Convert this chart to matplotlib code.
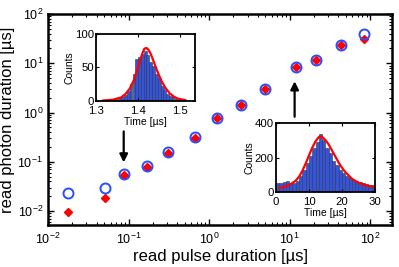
import numpy as np
import matplotlib
matplotlib.use("Agg")
import matplotlib.pyplot as plt
from matplotlib.ticker import LogLocator, NullFormatter

plt.rcParams['font.family'] = ['Liberation Sans', 'DejaVu Sans']
plt.rcParams['mathtext.fontset'] = 'custom'
plt.rcParams['mathtext.rm'] = 'Liberation Sans'
plt.rcParams['mathtext.it'] = 'Liberation Sans:italic'
plt.rcParams['mathtext.sf'] = 'Liberation Sans'

# ---- main data ----
pulse_duration = [0.0178, 0.051, 0.087, 0.17, 0.31, 0.67, 1.26, 2.45, 4.9, 11.9, 21.0, 43.5, 84.0]
photon_blue = [0.023, 0.029, 0.056, 0.081, 0.155, 0.32, 0.79, 1.45, 3.05, 8.5, 11.8, 23.7, 39.6]
photon_red = [0.0095, 0.018, 0.053, 0.079, 0.152, 0.31, 0.76, 1.42, 3.0, 8.2, 11.5, 23.0, 31.0]
red_err = [0.0012, 0.0025, 0.007, 0.011, 0.02, 0.04, 0.1, 0.2, 0.42, 1.2, 1.7, 3.2, 4.5]

# ---- inset 1 (short pulse) ----
h1_centers = [1.343, 1.350, 1.357, 1.363, 1.370, 1.377, 1.383, 1.390, 1.397, 1.403, 1.410,
              1.417, 1.423, 1.430, 1.437, 1.443, 1.450, 1.457, 1.463, 1.470, 1.477, 1.483,
              1.490, 1.497, 1.503]
h1_counts = [1, 2, 5, 6, 9, 14, 25, 40, 62, 65, 70, 75, 68, 58, 52, 40, 34, 22, 16, 10, 7, 5, 4, 2, 1]
fit1_t = [1.317, 1.34, 1.36, 1.37, 1.38, 1.39, 1.40, 1.405, 1.41, 1.415, 1.42, 1.425, 1.43,
          1.435, 1.445, 1.455, 1.465, 1.475, 1.485, 1.495, 1.512]
fit1_c = [0.3, 1.5, 5, 10, 18, 31, 50, 61, 71, 78, 79, 76, 70, 62, 45, 30, 19, 11, 6, 3, 0.8]

# ---- inset 2 (long pulse) ----
h2_centers = [0.5, 1.5, 2.5, 3.5, 4.5, 5.5, 6.5, 7.5, 8.5, 9.5, 10.5, 11.5, 12.5, 13.5, 14.5,
              15.5, 16.5, 17.5, 18.5, 19.5, 20.5, 21.5, 22.5, 23.5, 24.5, 25.5, 26.5, 27.5,
              28.5, 29.5]
h2_counts = [52, 50, 58, 62, 50, 48, 60, 90, 128, 168, 208, 255, 290, 335, 300, 258, 225,
             178, 158, 128, 108, 90, 80, 70, 60, 54, 50, 44, 40, 38]
fit2_t = [1, 2, 4, 6, 7, 8, 9, 10, 11, 12, 13, 13.5, 14, 15, 16, 17, 18, 19, 20, 21, 23, 25,
          27, 30]
fit2_c = [22, 26, 38, 65, 88, 122, 165, 212, 258, 295, 320, 323, 320, 302, 275, 240, 205,
          170, 140, 115, 76, 52, 38, 27]

fig = plt.figure(figsize=(3.99, 2.67), dpi=100)
ax = fig.add_axes([0.1203, 0.1573, 0.8622, 0.7903])
ax.set_xscale('log')
ax.set_yscale('log')
ax.set_xlim(0.01, 186)
ax.set_ylim(0.0052, 100)

ax.errorbar(pulse_duration, photon_red, yerr=red_err, fmt='D', color='red', ms=3.6,
            mec='red', mfc='red', elinewidth=1.3, capsize=0, zorder=3)
ax.plot(pulse_duration, photon_blue, 'o', ms=7.2, mfc='none', mec='#2a4dff', mew=1.4, zorder=4)

ax.set_xlabel('read pulse duration [µs]', fontsize=12, labelpad=1)
ax.set_ylabel('read photon duration [µs]', fontsize=12, labelpad=2)
ax.tick_params(which='both', direction='in', top=True, right=True, labelsize=9)
ax.tick_params(which='major', length=4, width=1)
ax.tick_params(which='minor', length=2.5, width=0.8)
ax.tick_params(axis='x', which='major', pad=5)
ax.xaxis.set_major_locator(LogLocator(base=10, numticks=10))
ax.yaxis.set_major_locator(LogLocator(base=10, numticks=10))
ax.xaxis.set_minor_locator(LogLocator(base=10, subs=np.arange(2, 10), numticks=20))
ax.yaxis.set_minor_locator(LogLocator(base=10, subs=np.arange(2, 10), numticks=20))
ax.xaxis.set_minor_formatter(NullFormatter())
ax.yaxis.set_minor_formatter(NullFormatter())
for s in ax.spines.values():
    s.set_linewidth(1.8)

# arrows
ax.annotate('', xy=(0.087, 0.085), xytext=(0.087, 0.47),
            arrowprops=dict(arrowstyle='-|>', color='black', lw=1.6, mutation_scale=12))
ax.annotate('', xy=(11.5, 4.9), xytext=(11.5, 0.72),
            arrowprops=dict(arrowstyle='-|>', color='black', lw=1.6, mutation_scale=12))

bar_color = '#3355dd'
edge_color = '#333344'

# inset 1
ax1 = fig.add_axes([0.2406, 0.6228, 0.2481, 0.2499])
ax1.bar(h1_centers, h1_counts, width=0.0067, color=bar_color, edgecolor=edge_color, linewidth=0.4)
ax1.plot(fit1_t, fit1_c, color='red', lw=1.6)
ax1.set_xlim(1.3, 1.535)
ax1.set_ylim(0, 100)
ax1.set_xticks([1.3, 1.4, 1.5])
ax1.set_yticks([0, 50, 100])
ax1.set_xlabel('Time [µs]', fontsize=7.5, labelpad=0.5)
ax1.set_ylabel('Counts', fontsize=7.5, labelpad=0.5)
ax1.tick_params(direction='in', top=True, right=True, labelsize=8.2, length=2.5, pad=1.5)
ax1.tick_params(axis='x', pad=4)
for s in ax1.spines.values():
    s.set_linewidth(1.3)

# inset 2
ax2 = fig.add_axes([0.6917, 0.282, 0.2481, 0.2562])
ax2.bar(h2_centers, h2_counts, width=1.0, color=bar_color, edgecolor=edge_color, linewidth=0.4)
ax2.plot(fit2_t, fit2_c, color='red', lw=1.6)
ax2.set_xlim(0, 30)
ax2.set_ylim(0, 400)
ax2.set_xticks([0, 10, 20, 30])
ax2.set_yticks([0, 200, 400])
ax2.set_xlabel('Time [µs]', fontsize=7.5, labelpad=0.5)
ax2.set_ylabel('Counts', fontsize=7.5, labelpad=0.5)
ax2.tick_params(direction='in', top=True, right=True, labelsize=8.2, length=2.5, pad=1.5)
ax2.tick_params(axis='x', pad=4)
for s in ax2.spines.values():
    s.set_linewidth(1.3)

fig.savefig('out.png', dpi=100)
